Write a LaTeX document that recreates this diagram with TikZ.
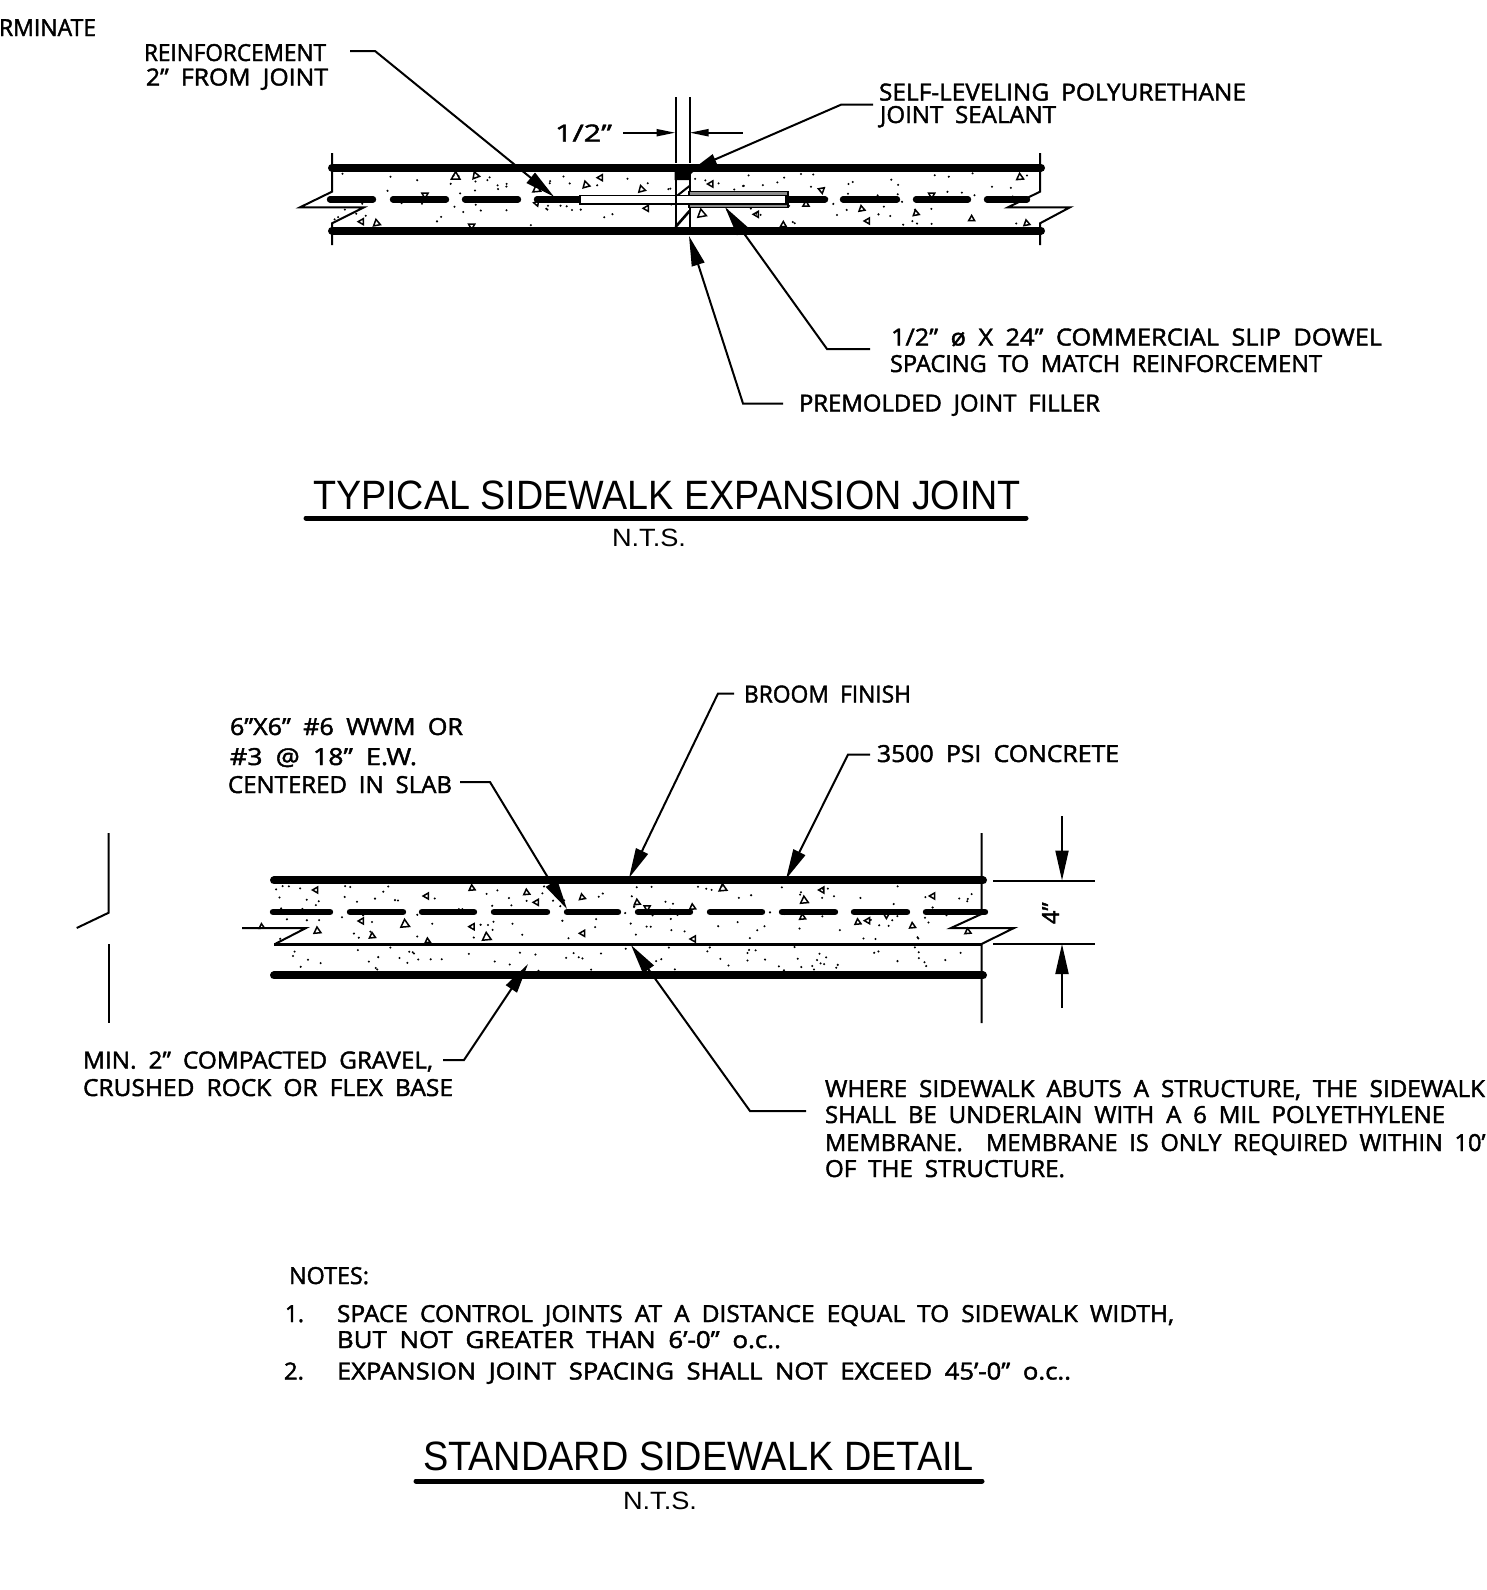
\documentclass[tikz,border=0pt]{standalone}
\usepackage{fontspec}
\usepackage{graphicx}
\setmainfont[WordSpace=1.9,FakeBold=1.8]{Open Sans}
\newfontfamily\ttlfont{Liberation Sans}
\usetikzlibrary{arrows.meta}
\newsavebox\lblbox
% name, left x, baseline y, right x, text
\newcommand\lbl[6][lab]{\node[#1,anchor=base west] (#2) at (#3,#4) {\sbox\lblbox{#6}\pgfmathsetmacro\xs{(#5-#3)/\wd\lblbox}\scalebox{\xs}[1]{\usebox\lblbox}};}
\tikzset{
  lab/.style={inner sep=0pt,outer sep=0pt,font=\fontsize{23.5}{23.5}\selectfont},
  ttl/.style={inner sep=0pt,outer sep=0pt,font=\ttlfont\fontsize{41}{41}\selectfont},
  nts/.style={inner sep=0pt,outer sep=0pt,font=\ttlfont\fontsize{25}{25}\selectfont},
  thinl/.style={line width=2pt,line join=miter},
  slab/.style={line width=8pt,line cap=round},
  bar/.style={line width=6.4pt,line cap=round},
  lead/.style={line width=2pt,-{Triangle[length=30pt,width=13pt]}},
  dima/.style={line width=2pt,-{Triangle[length=19pt,width=7pt]}},
  dimb/.style={line width=2pt,-{Triangle[length=30pt,width=13pt]}},
  tri/.style={line width=1.5pt,line join=miter},
  ul/.style={line width=5pt,line cap=round},
}
\newcommand\tris[1]{\foreach \x/\y/\r/\s in {#1}{\draw[tri,shift={(\x,\y)},rotate=\r] (90:\s pt) -- (210:\s pt) -- (330:\s pt) -- cycle;}}
\begin{document}
\begin{tikzpicture}[x=1pt,y=-1pt]
\useasboundingbox (0,0) rectangle (1486,1590);
\fill[white] (0,0) rectangle (1486,1590);

%% ---------- upper detail: stipple
\pgfmathsetseed{11}
\foreach \i in {1,...,120}{\pgfmathsetmacro\dx{334+rnd*700}\pgfmathsetmacro\dy{173+rnd*53}\fill[black] (\dx,\dy) circle (1.15pt);}
\begin{scope}[shift={(290,90)},x=0.3333pt,y=-0.3333pt]
\tris{497/260/0/5,557/257/20/4,215/395/-30/3.5,260/400/10/4,740/298/5/4.5,888/285/15/4,932/263/-30/3.5,1055/298/15/4,1070/355/-30/3.5,405/315/-60/3.5,545/408/-60/3.5,740/340/-40/3}
\end{scope}
\begin{scope}[shift={(640,90)},x=0.3333pt,y=-0.3333pt]
\tris{213/282/-30/3.5,185/372/10/5,350/373/-30/3.5,545/300/-50/3.5,498/343/0/3.5,665/357/10/3.5,683/393/-30/3.5,828/370/10/3.5,995/387/0/3.5,1140/262/5/4,1160/400/10/3.5,875/315/-60/3.5,430/405/0/3.5}
\end{scope}

%% slab lines
\draw[slab] (332,167.7) coordinate (ta) -- (1041,167.7) coordinate (tb);
\draw[slab] (332,230.7) coordinate (ba) -- (1041,230.7) coordinate (bb);
%% reinforcement
\foreach \a/\b in {330/373,393/446,465/518,537/580,788/825,843/897,916/968,987/1027}{\draw[bar] (\a,199.3) -- (\b,199.3);}
%% break lines
\draw[thinl] (332,153) -- (332,191.7) -- (300,207.3) -- (364,207.3) -- (332,223.3) -- (332,245);
\draw[thinl] (1040,153) -- (1040,191.7) -- (1008,207.3) -- (1070,207.3) -- (1040,223.3) -- (1040,245);
%% joint
\draw[thinl] (675.5,97) -- (675.5,163);
\draw[thinl] (689.5,97) -- (689.5,163);
\draw[thinl] (675.5,167) -- (675.5,231);
\draw[thinl] (689.5,167) -- (689.5,231);
\draw[thinl] (675.5,197) -- (689.5,186);
\draw[line width=2.6pt] (675.5,227) -- (689.5,211);
%% sealant
\fill[black] (674.5,165) -- (702,165) -- (702,170) .. controls (695,170) and (692,172) .. (690.5,175) -- (690.5,180) -- (674.5,180) -- cycle;
%% dowel
\draw[line width=1.4pt,fill=black!45] (689,191.7) -- (788,191.7) -- (788,207.3) -- (689,207.3) -- cycle;
\draw[line width=1.6pt,fill=white] (580,195.3) rectangle (786,203.7);
\draw[thinl] (675.5,195.3) -- (675.5,203.7);

%% dimension 1/2"
\coordinate (dl0) at (623,132.7); \coordinate (dl1) at (675.5,132.7);
\coordinate (dr0) at (742.7,132.7); \coordinate (dr1) at (689.5,132.7);
\draw[dima] (dl0) -- (dl1);
\draw[dima] (dr0) -- (dr1);

%% labels upper
\lbl{rm}{-1}{36}{96}{RMINATE}
\lbl{re1}{144}{61}{326}{REINFORCEMENT}
\lbl{re2}{146}{85.5}{328}{2” FROM JOINT}
\lbl{half}{555}{141.5}{612}{1/2”}
\lbl{sl1}{879}{100.5}{1246}{SELF-LEVELING POLYURETHANE}
\lbl{sl2}{880}{123}{1056}{JOINT SEALANT}
\lbl{dw1}{891}{345.5}{1382}{1/2” ø X 24” COMMERCIAL SLIP DOWEL}
\lbl{dw2}{890}{372}{1322}{SPACING TO MATCH REINFORCEMENT}
\lbl{pf}{799}{411.5}{1100}{PREMOLDED JOINT FILLER}
\lbl[ttl]{t1}{313}{509}{1021}{TYPICAL SIDEWALK EXPANSION JOINT}
\draw[ul] (306,518) coordinate (u1a) -- (1026,518) coordinate (u1b);
\lbl[nts]{n1}{612}{546}{686}{N.T.S.}

%% leaders upper
\coordinate (r0) at (350,51); \coordinate (r1) at (375,51); \coordinate (r2) at (554,196.7);
\draw[lead] (r0) -- (r1) -- (r2);
\coordinate (s0) at (873,104.7); \coordinate (s1) at (841,104.7); \coordinate (s2) at (693,169);
\draw[lead,-{Triangle[length=24pt,width=11pt]}] (s0) -- (s1) -- (s2);
\coordinate (d0) at (870,349); \coordinate (d1) at (827,349); \coordinate (d2) at (725,207);
\draw[lead] (d0) -- (d1) -- (d2);
\coordinate (f0) at (783,403.5); \coordinate (f1) at (743,403.5); \coordinate (f2) at (689,236);
\draw[lead] (f0) -- (f1) -- (f2);

%% ---------- lower detail: stipple
\foreach \i in {1,...,130}{\pgfmathsetmacro\dx{276+rnd*702}\pgfmathsetmacro\dy{886+rnd*53}\fill[black] (\dx,\dy) circle (1.15pt);}
\foreach \i in {1,...,70}{\pgfmathsetmacro\dx{276+rnd*702}\pgfmathsetmacro\dy{947+rnd*24}\fill[black] (\dx,\dy) circle (1.15pt);}
\begin{scope}[shift={(60,810)},x=0.3333pt,y=-0.3333pt]
\tris{768/240/-30/3.5,1100/258/-30/3.5,1236/235/5/3.5,1400/248/5/3.5,1430/277/-30/3.5,905/333/-30/3.5,1035/343/5/5,1237/350/-30/3.5,937/378/5/3.5,772/363/5/4,1280/382/5/5,605/350/5/3,1103/393/5/3}
\end{scope}
\begin{scope}[shift={(540,810)},x=0.3571pt,y=-0.3333pt]
\tris{118/262/10/3.5,272/278/5/3.5,300/293/-60/3.5,427/292/5/3.5,512/235/5/4.5,740/272/5/4.5,790/240/-30/3.5,1100/258/-30/3.5,735/322/5/3.5,890/337/5/3.5,918/332/-30/3.5,1043/348/5/3.5,120/370/-30/3.5,430/387/-30/3.5,1198/365/5/3.5,970/315/-60/3.5}
\end{scope}

%% slab lines
\draw[slab] (274,880.4) coordinate (lta) -- (983,880.4) coordinate (ltb);
\draw[slab] (274,975.4) coordinate (lba) -- (983,975.4) coordinate (lbb);
\draw[line width=3pt] (274,944) coordinate (lma) -- (982,944) coordinate (lmb);
\foreach \a/\b in {273/330,350/403,422/474,494/547,567/618,638/690,710/762,782/835,854/907,926/985}{\draw[bar] (\a,912) -- (\b,912);}
%% breaks
\draw[thinl] (242,928) -- (306,928) -- (275,944);
\draw[thinl] (981.5,833) -- (981.5,914) -- (951,928) -- (1014,928) -- (981.5,944) -- (981.5,1023);
\draw[thinl] (108.7,833) -- (108.7,912.7) -- (76.7,928);
\draw[thinl] (108.7,944) -- (108.7,1023);
%% dimension 4"
\draw[thinl] (993,880.5) coordinate (e1a) -- (1095,880.5) coordinate (e1b);
\draw[thinl] (993,944) coordinate (e2a) -- (1095,944) coordinate (e2b);
\coordinate (v0) at (1062,816); \coordinate (v1) at (1062,880.5);
\coordinate (w0) at (1062,1008); \coordinate (w1) at (1062,944);
\draw[dimb] (v0) -- (v1);
\draw[dimb] (w0) -- (w1);
\node[lab,anchor=base west,rotate=90] (four) at (1059,924) {4”};

%% labels lower
\lbl{bf}{744}{702.5}{911}{BROOM FINISH}
\lbl{pc}{877}{762}{1119}{3500 PSI CONCRETE}
\lbl{w1l}{230}{735}{463}{6”X6” \#6 WWM OR}
\lbl{w2l}{230}{765}{417}{\#3 @ 18” E.W.}
\lbl{w3l}{228}{793}{452}{CENTERED IN SLAB}
\lbl{g1}{83}{1068.5}{433}{MIN. 2” COMPACTED GRAVEL,}
\lbl{g2}{83}{1096}{453}{CRUSHED ROCK OR FLEX BASE}
\lbl{m1}{825}{1097}{1485}{WHERE SIDEWALK ABUTS A STRUCTURE, THE SIDEWALK}
\lbl{m2}{825}{1123}{1445}{SHALL BE UNDERLAIN WITH A 6 MIL POLYETHYLENE}
\lbl{m3}{825}{1151}{1485.5}{MEMBRANE.\ \ MEMBRANE IS ONLY REQUIRED WITHIN 10’}
\lbl{m4}{825}{1177}{1065}{OF THE STRUCTURE.}
\lbl{no}{289}{1284}{369}{NOTES:}
\lbl{n1a}{285}{1322}{304}{1.}
\lbl{n1b}{337}{1322}{1174}{SPACE CONTROL JOINTS AT A DISTANCE EQUAL TO SIDEWALK WIDTH,}
\lbl{n1c}{337}{1348}{781}{BUT NOT GREATER THAN 6’-0” o.c..}
\lbl{n2a}{284}{1379.5}{304}{2.}
\lbl{n2b}{337}{1379.5}{1071}{EXPANSION JOINT SPACING SHALL NOT EXCEED 45’-0” o.c..}
\lbl[ttl]{t2}{423}{1470}{974}{STANDARD SIDEWALK DETAIL}
\draw[ul] (416,1481) coordinate (u2a) -- (982,1481) coordinate (u2b);
\lbl[nts]{n2}{623}{1509}{697}{N.T.S.}

%% leaders lower
\coordinate (b0) at (734,693.5); \coordinate (b1) at (718,693.5); \coordinate (b2) at (629,878);
\draw[lead] (b0) -- (b1) -- (b2);
\coordinate (c0) at (870,754.5); \coordinate (c1) at (848,754.5); \coordinate (c2) at (786,879);
\draw[lead] (c0) -- (c1) -- (c2);
\coordinate (x0) at (460,782); \coordinate (x1) at (490,782); \coordinate (x2) at (567,909);
\draw[lead] (x0) -- (x1) -- (x2);
\coordinate (g0) at (443,1060); \coordinate (g1) at (464,1060); \coordinate (g2) at (528,964);
\draw[lead] (g0) -- (g1) -- (g2);
\coordinate (y0) at (806,1111); \coordinate (y1) at (750,1111); \coordinate (y2) at (631,945);
\draw[lead] (y0) -- (y1) -- (y2);
\end{tikzpicture}
\end{document}
